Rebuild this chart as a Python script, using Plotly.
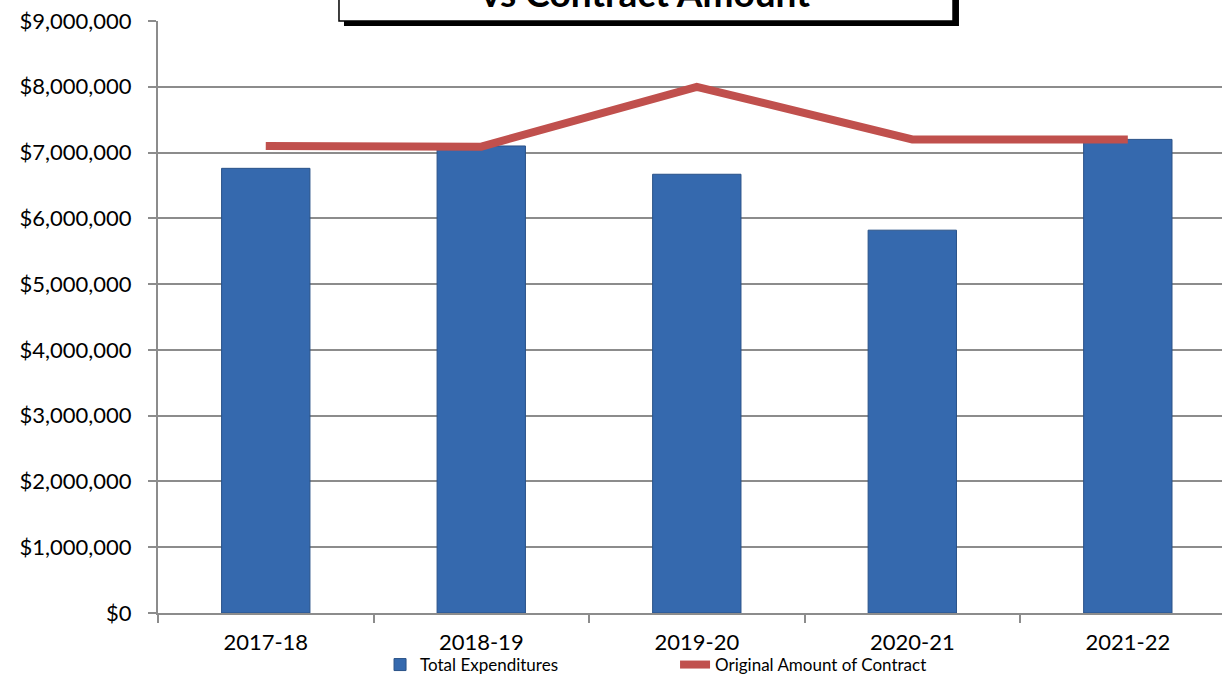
import plotly.graph_objects as go

categories = ["2017-18", "2018-19", "2019-20", "2020-21", "2021-22"]
total_expenditures = [6760000, 7100000, 6670000, 5820000, 7200000]
original_contract = [7100000, 7090000, 8000000, 7200000, 7200000]
y_ticks = [0, 1000000, 2000000, 3000000, 4000000, 5000000, 6000000, 7000000, 8000000, 9000000]
y_tick_labels = ["$" + format(v, ",") for v in y_ticks]

FONT = "Lato, Calibri, Carlito, sans-serif"

fig = go.Figure()
fig.add_trace(go.Bar(
    x=categories, y=total_expenditures, name="Total Expenditures",
    width=0.41,
    marker=dict(color="#3569AE", line=dict(color="#2A5288", width=1)),
))
fig.add_trace(go.Scatter(
    x=categories, y=original_contract, name="Original Amount of Contract",
    mode="lines", line=dict(color="#C0504D", width=8),
))

# Title box (cut off at top in the reference)
fig.add_shape(type="rect", xref="paper", yref="paper",
              x0=0.1748, x1=0.7528, y0=0.9916, y1=1.2,
              fillcolor="black", line=dict(width=0), layer="above")
fig.add_shape(type="rect", xref="paper", yref="paper",
              x0=0.1701, x1=0.7472, y0=1.0, y1=1.2,
              fillcolor="white", line=dict(color="black", width=1.5), layer="above")
fig.add_annotation(text="<b>vs Contract Amount</b>", xref="paper", yref="paper",
                   x=0.458, y=1.006, xanchor="center", yanchor="bottom",
                   showarrow=False, font=dict(family=FONT, size=37, color="black"))

fig.update_layout(
    width=1222, height=683,
    margin=dict(l=158, r=0, t=21, b=70, autoexpand=False),
    paper_bgcolor="white", plot_bgcolor="white",
    font=dict(family=FONT, size=22, color="black"),
    showlegend=True,
    legend=dict(orientation="h", xref="container", yref="container",
                x=0.311, y=-0.008, xanchor="left", yanchor="bottom",
                entrywidth=250, entrywidthmode="pixels",
                font=dict(family=FONT, size=17, color="black"),
                bgcolor="rgba(0,0,0,0)", tracegroupgap=0,
                borderwidth=0),
    bargap=0.59,
)
fig.update_xaxes(
    type="category", range=[-0.5, 4.437], automargin=False,
    showline=True, linecolor="#8C8C8C", linewidth=2,
    ticks="outside", tickson="boundaries", ticklen=8, tickcolor="#8C8C8C", tickwidth=2,
    showgrid=False, tickfont=dict(size=22), ticklabelstandoff=9,
)
fig.update_yaxes(
    range=[0, 9000000], tickvals=y_ticks, ticktext=y_tick_labels, automargin=False,
    showline=True, linecolor="#8C8C8C", linewidth=2,
    ticks="outside", ticklen=8, tickcolor="#8C8C8C", tickwidth=2,
    showgrid=True, gridcolor="#8C8C8C", gridwidth=2,
    zeroline=False, ticklabelstandoff=12, tickfont=dict(size=22),
)

fig.write_html("out.html")
